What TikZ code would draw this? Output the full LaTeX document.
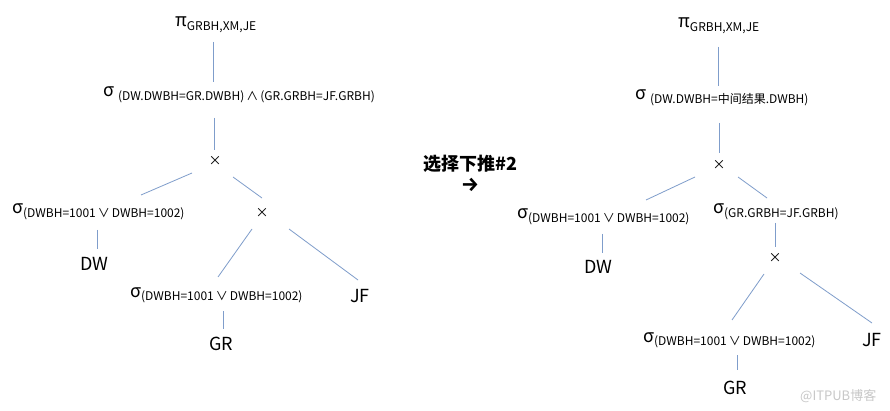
\documentclass[tikz,border=0pt]{standalone}
\usepackage{fontspec}
\setmainfont{Noto Sans CJK SC}
\newfontfamily\arrowfont{Fira Sans}
\usetikzlibrary{calc}
\definecolor{lineblue}{HTML}{7F9DCB}
\definecolor{wmgray}{HTML}{C8C8C8}
\newcommand{\lowsub}[1]{\raisebox{-3.5pt}{\fontsize{12}{12}\selectfont #1}}
\begin{document}
\begin{tikzpicture}[x=1pt,y=-1pt,
  lbl/.style={inner sep=0pt, anchor=base west, font=\fontsize{18}{18}\selectfont},
  op/.style={inner sep=0pt, font=\fontsize{13}{13}\selectfont},
  edge/.style={draw=lineblue, line width=0.8pt}]
\useasboundingbox[fill=white] (0,0) rectangle (890,411);

% ---------- left tree ----------
\node[lbl] (p1) at (175,27) {π\lowsub{GRBH,XM,JE}};
\node[lbl] (s1) at (103,97) {σ\hspace{4pt}\lowsub{(DW.DWBH=GR.DWBH)\,∧\,(GR.GRBH=JF.GRBH)}};
\node[op] (x1) at (215,161) {×};
\node[lbl] (s2) at (12,214) {σ\lowsub{(DWBH=1001\,∨\,DWBH=1002)}};
\node[lbl] (dw1) at (80,270) {DW};
\node[op] (x2) at (262,213) {×};
\node[lbl] (s3) at (130,297) {σ\lowsub{(DWBH=1001\,∨\,DWBH=1002)}};
\node[lbl] (jf1) at (350,302) {JF};
\node[lbl] (gr1) at (209,350) {GR};

\draw[edge] ($(p1.base west)+(38,15)$) -- ($(s1.base west)+(110,-15)$);
\draw[edge] ($(s1.base west)+(111,21)$) -- ($(x1)+(-1,-11)$);
\draw[edge] ($(x1)+(-23,12)$) -- ($(s2.base west)+(129,-19)$);
\draw[edge] ($(x1)+(18,16)$) -- ($(x2)+(0,-15)$);
\draw[edge] ($(s2.base west)+(85,16)$) -- ($(dw1.base west)+(17,-21)$);
\draw[edge] ($(x2)+(-10,16)$) -- ($(s3.base west)+(88,-20)$);
\draw[edge] ($(x2)+(27,16)$) -- ($(jf1.base west)+(8,-22)$);
\draw[edge] ($(s3.base west)+(93,14)$) -- ($(gr1.base west)+(14,-21)$);

% ---------- middle ----------
\node[lbl, font=\fontsize{18}{18}\selectfont\bfseries] (t1) at (423,171) {选择下推\#2};
\node[inner sep=0pt, anchor=center, font=\arrowfont\bfseries\fontsize{20}{20}\selectfont] (arr) at (470,185) {→};

% ---------- right tree ----------
\node[lbl] (p2) at (678,28) {π\lowsub{GRBH,XM,JE}};
\node[lbl] (s4) at (635,100) {σ\hspace{4pt}\lowsub{(DW.DWBH=中间结果.DWBH)}};
\node[op] (x3) at (719,165) {×};
\node[lbl] (s5) at (517,219) {σ\lowsub{(DWBH=1001\,∨\,DWBH=1002)}};
\node[lbl] (s6) at (713,214) {σ\lowsub{(GR.GRBH=JF.GRBH)}};
\node[lbl] (dw2) at (584,273) {DW};
\node[op] (x4) at (775,258) {×};
\node[lbl] (s7) at (643,342) {σ\lowsub{(DWBH=1001\,∨\,DWBH=1002)}};
\node[lbl] (jf2) at (862,346) {JF};
\node[lbl] (gr2) at (723,394) {GR};

\draw[edge] ($(p2.base west)+(40,19)$) -- ($(s4.base west)+(83,-14)$);
\draw[edge] ($(s4.base west)+(84,23)$) -- ($(x3)+(0,-12)$);
\draw[edge] ($(x3)+(-24,12)$) -- ($(s5.base west)+(129,-19)$);
\draw[edge] ($(x3)+(19,12)$) -- ($(s6.base west)+(54,-16)$);
\draw[edge] ($(s5.base west)+(85,15)$) -- ($(dw2.base west)+(18,-20)$);
\draw[edge] ($(s6.base west)+(62,9)$) -- ($(x4)+(0,-11)$);
\draw[edge] ($(x4)+(-11,16)$) -- ($(s7.base west)+(89,-22)$);
\draw[edge] ($(x4)+(25,15)$) -- ($(jf2.base west)+(10,-23)$);
\draw[edge] ($(s7.base west)+(94,13)$) -- ($(gr2.base west)+(14,-24)$);

% ---------- watermark ----------
\node[inner sep=0pt, anchor=west, text=wmgray, font=\fontsize{13}{13}\selectfont] (wm) at (800,396) {@ITPUB博客};
\end{tikzpicture}
\end{document}
